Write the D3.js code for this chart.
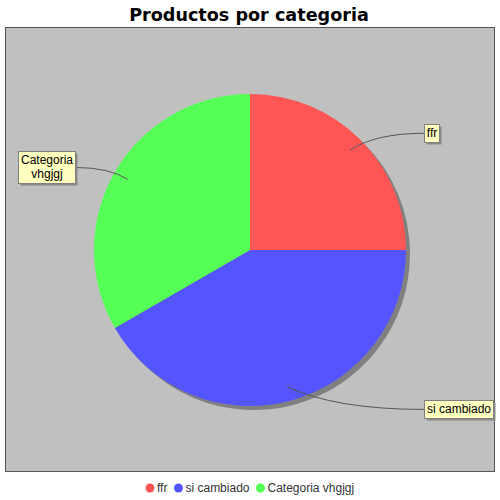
<!DOCTYPE html>
<html><head><meta charset="utf-8">
<script src="https://cdn.jsdelivr.net/npm/d3@7"></script>
<style>body{margin:0;background:#fff}svg{display:block}</style>
</head><body>
<svg id="c" width="500" height="500"></svg>
<script>
const categories = ["ffr", "si cambiado", "Categoria vhgjgj"];
const values = [3, 5, 4];
const labelLines = [["ffr"], ["si cambiado"], ["Categoria", "vhgjgj"]];
const colors = ["#FF5555", "#5555FF", "#55FF55"];
const title = "Productos por categoria";

const svg = d3.select("#c");
const W = 500, H = 500;
svg.append("rect").attr("width", W).attr("height", H).attr("fill", "#fff");

svg.append("text").attr("x", 249).attr("y", 21).attr("text-anchor", "middle")
  .attr("font-family", "DejaVu Sans").attr("font-weight", "bold").attr("font-size", 17.6)
  .text(title);

// plot area
svg.append("rect").attr("x", 5.5).attr("y", 27.5).attr("width", 489).attr("height", 444)
  .attr("fill", "#C0C0C0").attr("stroke", "#555").attr("stroke-width", 1);

const cx = 250, cy = 250, r = 156;
const pie = d3.pie().sort(null).value(d => d)(values);
const arc = d3.arc().innerRadius(0).outerRadius(r);
const g = svg.append("g").attr("transform", `translate(${cx},${cy})`);
g.append("g").attr("transform", "translate(4,4)").selectAll("path").data(pie).join("path")
  .attr("d", arc).attr("fill", "#808080");
g.selectAll("path.s").data(pie).join("path").attr("class", "s")
  .attr("d", arc).attr("fill", (d, i) => colors[i]);

// labels
const font = "Liberation Sans", fs = 12;
pie.forEach((d, i) => {
  const a = (d.startAngle + d.endAngle) / 2;
  const ax = cx + Math.sin(a) * r * 0.905, ay = cy - Math.cos(a) * r * 0.905;
  const right = Math.sin(a) >= 0;
  const ly = cy - Math.cos(a) * r * 1.058;
  const lx = right ? cx + r * 1.115 : cx - r * 1.125;
  const lines = labelLines[i];
  const tmp = svg.append("g");
  const widths = lines.map(t => {
    const tt = tmp.append("text").attr("font-family", font).attr("font-size", fs).text(t);
    return tt.node().getComputedTextLength();
  });
  tmp.remove();
  const bw = Math.round(d3.max(widths) + 5), lh = 14, bh = lines.length * lh + 4;
  const bx = right ? Math.round(lx) : Math.round(lx - bw);
  const by = Math.round(ly - bh / 2);
  const tx = right ? bx : bx + bw;
  const ctrlX = ax + (tx - ax) * 0.35;
  svg.append("path").attr("d", `M${ax},${ay} Q${ctrlX},${ly} ${tx},${ly}`)
    .attr("fill", "none").attr("stroke", "#555").attr("stroke-width", 1);
  svg.append("rect").attr("x", bx + 2.5).attr("y", by + 2.5).attr("width", bw).attr("height", bh)
    .attr("fill", "#8a8a8a");
  svg.append("rect").attr("x", bx + 0.5).attr("y", by + 0.5).attr("width", bw).attr("height", bh)
    .attr("fill", "#FFFFC0").attr("stroke", "#808080");
  lines.forEach((t, k) => {
    svg.append("text").attr("x", bx + bw / 2 + 0.5).attr("y", by + 2 + lh * k + 11)
      .attr("text-anchor", "middle").attr("font-family", font).attr("font-size", fs)
      .attr("fill", "#000").text(t);
  });
});

// legend
const lg = svg.append("g");
let x = 0;
categories.forEach((c, i) => {
  const it = lg.append("g");
  it.append("circle").attr("cx", 4).attr("cy", 0).attr("r", 4.5).attr("fill", colors[i]);
  const t = it.append("text").attr("x", 11).attr("y", 4).attr("font-family", font)
    .attr("font-size", 12).attr("fill", "#333").text(c);
  const w = 11 + t.node().getComputedTextLength();
  it.attr("transform", `translate(${x},0)`);
  x += w + 7;
});
const total = x - 7;
lg.attr("transform", `translate(${Math.round(250 - total / 2)},488)`);
</script>
</body></html>
